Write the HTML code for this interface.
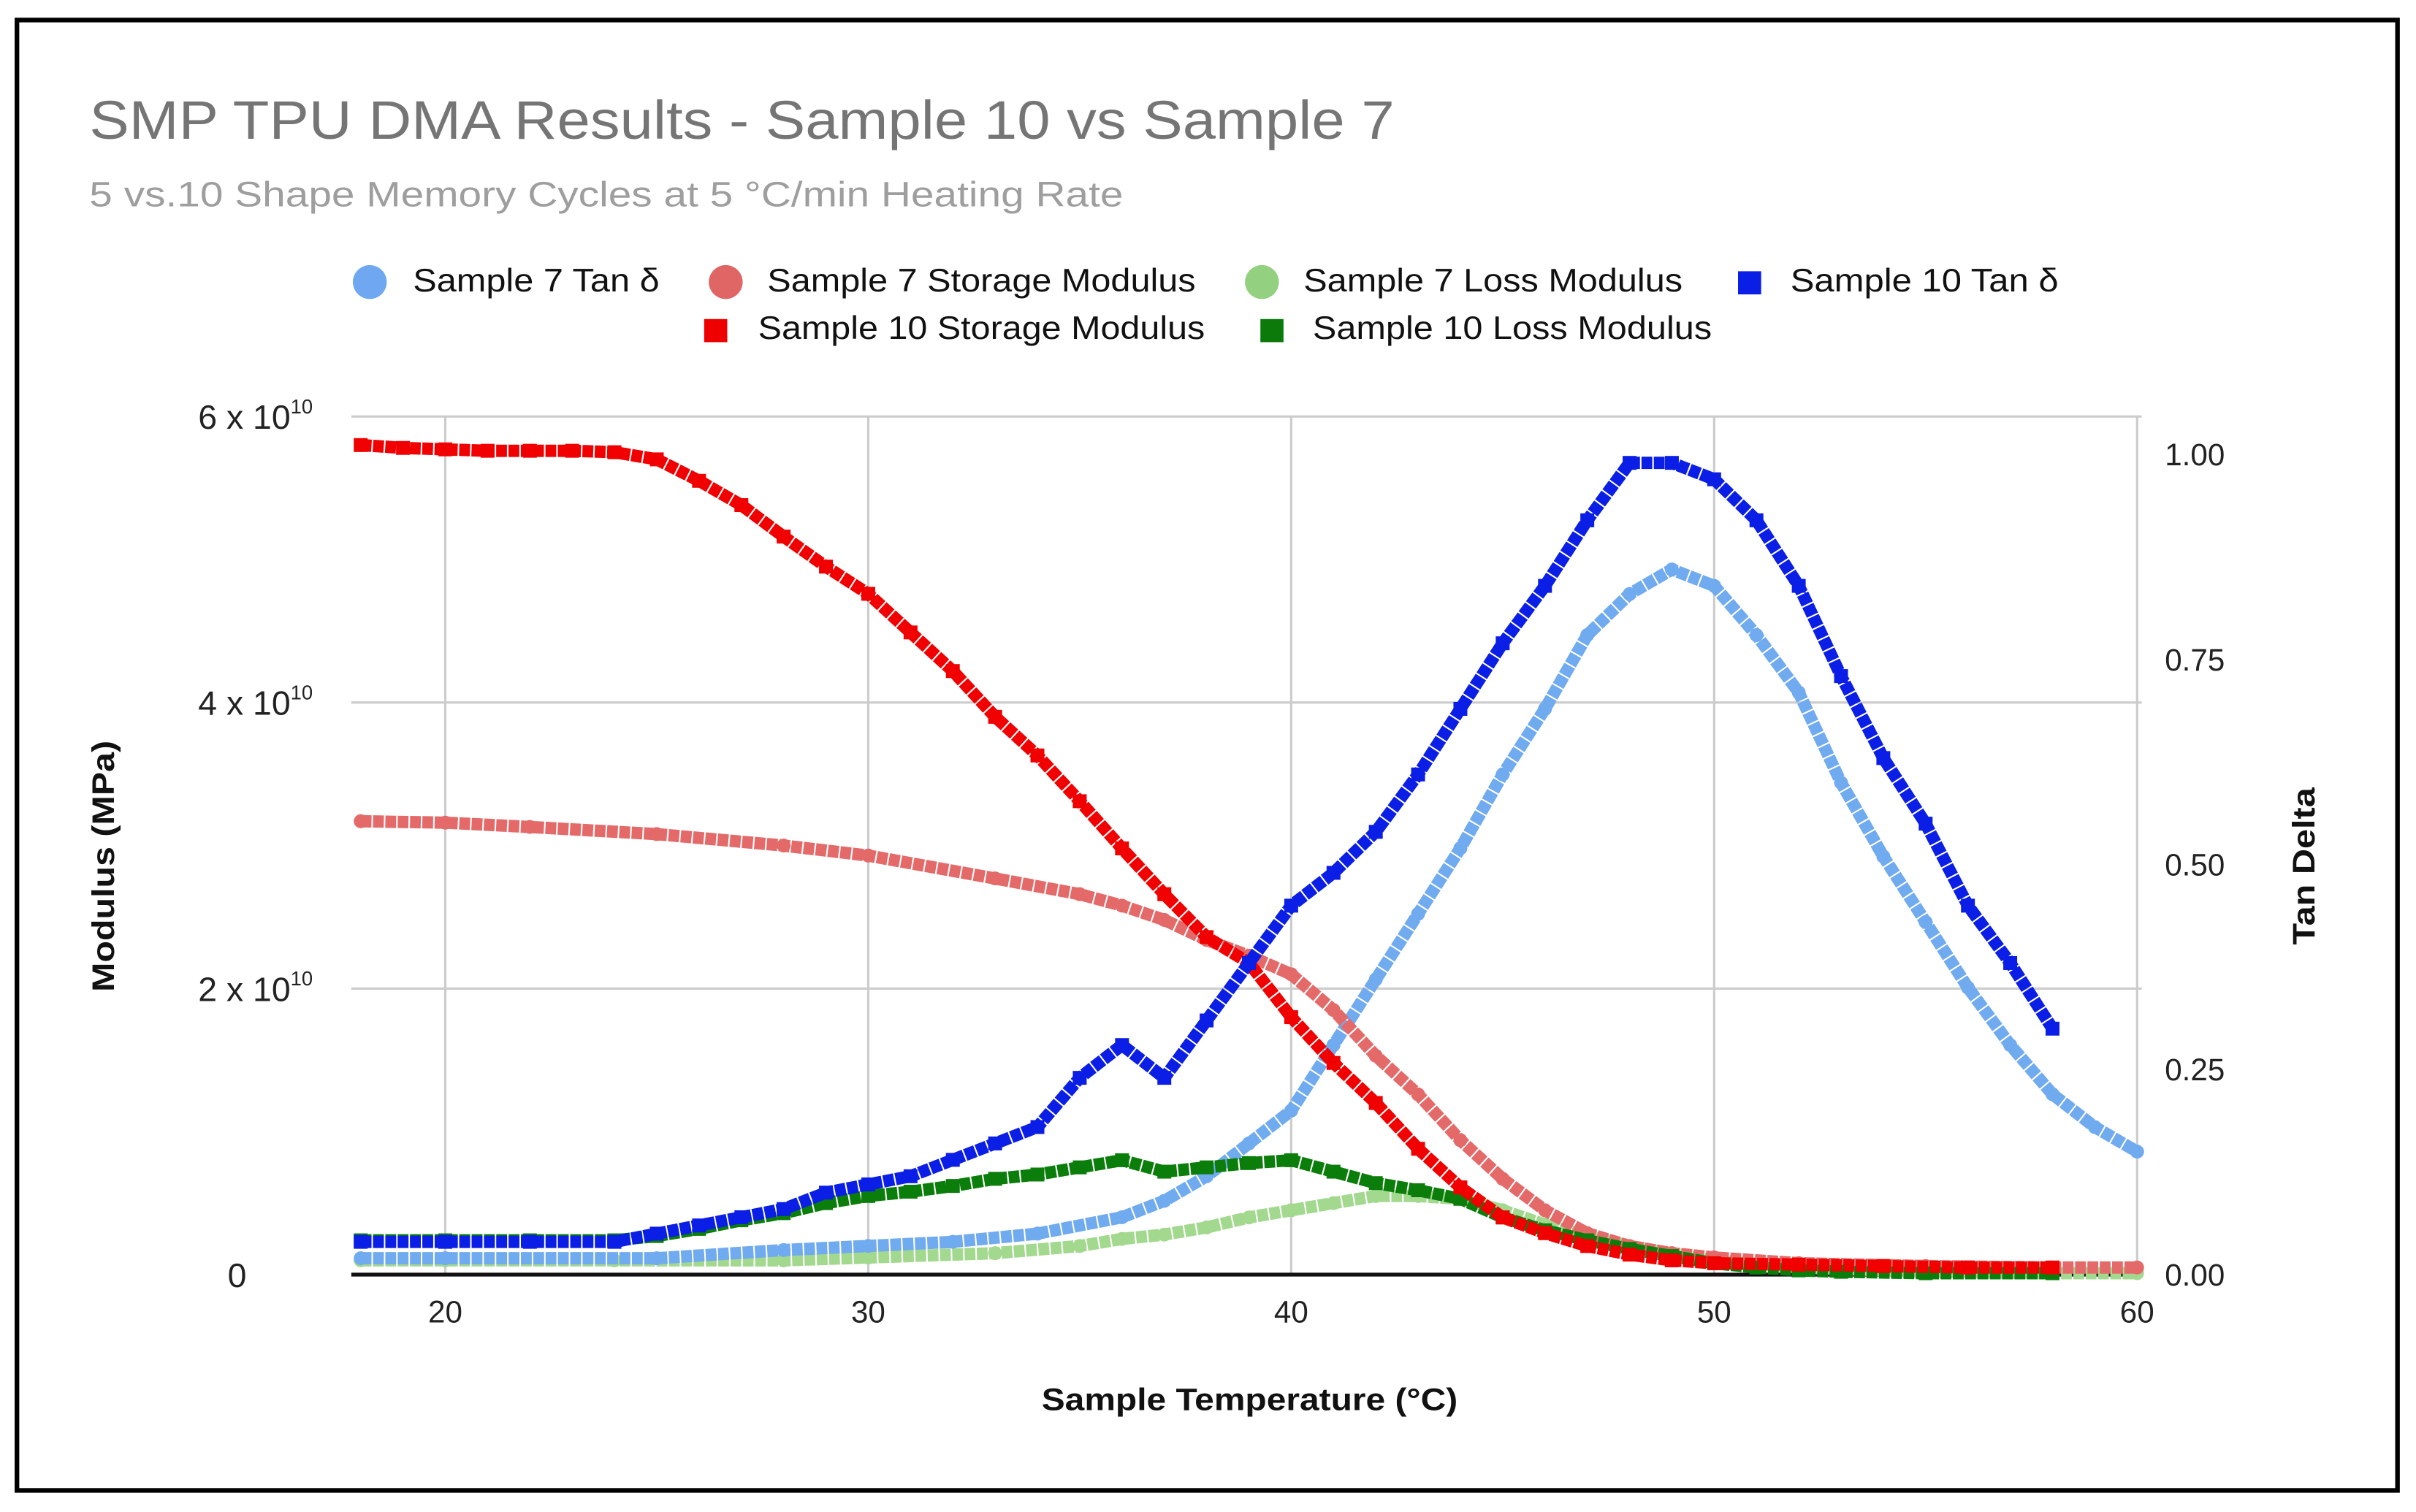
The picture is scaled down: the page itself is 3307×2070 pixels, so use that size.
<!DOCTYPE html>
<html><head><meta charset="utf-8"><style>
html,body{margin:0;padding:0;background:#fff;}
svg{display:block;font-family:"Liberation Sans",Arial,sans-serif;}
</style></head><body>
<svg id="chart" width="3307" height="2070" viewBox="0 0 1568 981" preserveAspectRatio="none" xmlns="http://www.w3.org/2000/svg">
<rect x="0" y="0" width="1568" height="981" fill="#fff"/>
<rect x="11" y="13" width="1545" height="954" fill="none" stroke="#000" stroke-width="3"/>
<text x="58" y="90" font-size="35" fill="#757575" textLength="847" lengthAdjust="spacingAndGlyphs">SMP TPU DMA Results - Sample 10 vs Sample 7</text>
<text x="58" y="134" font-size="23" fill="#9e9e9e" textLength="671" lengthAdjust="spacingAndGlyphs">5 vs.10 Shape Memory Cycles at 5 °C/min Heating Rate</text>
<g font-size="21" fill="#111" lengthAdjust="spacingAndGlyphs">
 <g><circle cx="240" cy="183" r="11" fill="#6fa8f0"/><text x="268" y="189" textLength="160" lengthAdjust="spacingAndGlyphs">Sample 7 Tan δ</text></g>
 <g><circle cx="471" cy="183" r="11" fill="#e06666"/><text x="498" y="189" textLength="278" lengthAdjust="spacingAndGlyphs">Sample 7 Storage Modulus</text></g>
 <g><circle cx="819" cy="183" r="11" fill="#93d07f"/><text x="846" y="189" textLength="246" lengthAdjust="spacingAndGlyphs">Sample 7 Loss Modulus</text></g>
 <g><rect x="1128" y="176" width="15" height="15" fill="#0a1ee6"/><text x="1162" y="189" textLength="174" lengthAdjust="spacingAndGlyphs">Sample 10 Tan δ</text></g>
 <g><rect x="457" y="207" width="15" height="15" fill="#ee0000"/><text x="492" y="220" textLength="290" lengthAdjust="spacingAndGlyphs">Sample 10 Storage Modulus</text></g>
 <g><rect x="818" y="207" width="15" height="15" fill="#0b7a0b"/><text x="852" y="220" textLength="259" lengthAdjust="spacingAndGlyphs">Sample 10 Loss Modulus</text></g>
</g>
<g id="grid"></g>
<g id="axes"></g>
<g id="series"></g>
<text transform="translate(74,562) rotate(-90)" text-anchor="middle" font-size="20" font-weight="bold" fill="#111" textLength="163" lengthAdjust="spacingAndGlyphs">Modulus (MPa)</text>
<text transform="translate(1502,562) rotate(-90)" text-anchor="middle" font-size="20" font-weight="bold" fill="#111" textLength="102" lengthAdjust="spacingAndGlyphs">Tan Delta</text>
<text x="811" y="915" text-anchor="middle" font-size="20" font-weight="bold" fill="#111" textLength="270" lengthAdjust="spacingAndGlyphs">Sample Temperature (°C)</text>
</svg>
<script>
const xTicks=[20,30,40,50,60];
const leftTicks=[0,2,4,6];
const rightTicks=[0,0.25,0.5,0.75,1.0];
const rightTickLabels=["0.00","0.25","0.50","0.75","1.00"];

const s10StorageX=[18,19,20,21,22,23,24,25,26,27,28,29,30,31,32,33,34,35,36,37,38,39,40,41,42,43,44,45,46,47,48,49,50,52,54,56,58];
const s10StorageY=[5.8,5.78,5.77,5.76,5.76,5.76,5.75,5.7,5.55,5.38,5.16,4.95,4.76,4.49,4.22,3.9,3.63,3.31,2.98,2.66,2.36,2.18,1.8,1.48,1.2,0.88,0.61,0.4,0.29,0.2,0.14,0.1,0.08,0.07,0.06,0.05,0.05];

const s7StorageX=[18,20,22,25,28,30,33,35,36,37,38,39,40,41,42,43,44,45,46,47,48,49,50,52,55,58,60];
const s7StorageY=[3.17,3.16,3.13,3.08,3.0,2.93,2.77,2.66,2.58,2.48,2.34,2.23,2.1,1.85,1.53,1.26,0.94,0.67,0.45,0.29,0.2,0.15,0.12,0.08,0.06,0.05,0.05];

const s10LossX=[18,20,22,24,25,26,27,28,29,30,31,32,33,34,35,36,37,38,39,40,41,42,43,44,45,46,47,48,49,50,51,52,53,55,58];
const s10LossY=[0.24,0.24,0.24,0.24,0.27,0.32,0.38,0.43,0.5,0.55,0.58,0.62,0.67,0.7,0.75,0.8,0.72,0.75,0.78,0.8,0.72,0.64,0.59,0.53,0.4,0.31,0.24,0.18,0.13,0.08,0.05,0.03,0.02,0.01,0.01];

const s7LossX=[18,20,24,28,30,33,35,36,37,38,39,40,41,42,43,44,45,46,47,48,49,50,52,55,58,60];
const s7LossY=[0.1,0.1,0.1,0.1,0.12,0.15,0.2,0.25,0.28,0.33,0.4,0.45,0.5,0.55,0.55,0.53,0.45,0.35,0.27,0.2,0.15,0.1,0.05,0.02,0.01,0.01];

const s10TanX=[18,20,22,24,25,26,27,28,29,30,31,32,33,34,35,36,37,38,39,40,41,42,43,44,45,46,47,48,49,50,51,52,53,54,55,56,57,58];
const s10TanY=[0.04,0.04,0.04,0.04,0.05,0.06,0.07,0.08,0.1,0.11,0.12,0.14,0.16,0.18,0.24,0.28,0.24,0.31,0.38,0.45,0.49,0.54,0.61,0.69,0.77,0.84,0.92,0.99,0.99,0.97,0.92,0.84,0.73,0.63,0.55,0.45,0.38,0.3];

const s7TanX=[18,20,25,28,30,32,34,36,37,38,39,40,41,42,43,44,45,46,47,48,49,50,51,52,53,54,55,56,57,58,59,60];
const s7TanY=[0.02,0.02,0.02,0.03,0.035,0.04,0.05,0.07,0.09,0.12,0.16,0.2,0.28,0.36,0.44,0.52,0.61,0.69,0.78,0.83,0.86,0.84,0.78,0.71,0.6,0.51,0.43,0.35,0.28,0.22,0.18,0.15];

const NS="http://www.w3.org/2000/svg";
const PL=228,PR=1390;
function xs(v){return 289+(v-20)*27.45;}
function yl(v){return 827-v*92.8;}
function yr(v){return 827-v*532;}
function mk(tag,attrs,parent){const e=document.createElementNS(NS,tag);for(const k in attrs)e.setAttribute(k,attrs[k]);parent.appendChild(e);return e;}

const grid=document.getElementById('grid');
const axes=document.getElementById('axes');
xTicks.forEach(t=>{
  const l=mk('line',{x1:xs(t),x2:xs(t),y1:270,y2:827,stroke:'#cccccc','stroke-width':1.5},grid);
  
  
  const tx=mk('text',{x:xs(t),y:858,'text-anchor':'middle','font-size':20,fill:'#222'},axes);
  tx.textContent=t;
  
  
});
leftTicks.forEach(t=>{
  if(t>0){
    const l=mk('line',{x1:PL,x2:PR,y1:yl(t),y2:yl(t),stroke:'#cccccc','stroke-width':1.5},grid);
    
    
  }
  const tx=mk('text',{x:t>0?203:160,y:yl(t)+8,'text-anchor':'end','font-size':22,fill:'#222'},axes);
  if(t>0){tx.innerHTML=t+' x 10<tspan font-size="13" dy="-10">10</tspan>';}else{tx.textContent='0';}
  
  
});
rightTicks.forEach((t,i)=>{
  const tx=mk('text',{x:1405,y:yr(t)+7,'font-size':20,fill:'#222'},axes);
  tx.textContent=rightTickLabels[i];
  
  
});
const base=mk('line',{x1:PL,x2:PR,y1:827,y2:827,stroke:'#111','stroke-width':2.5},axes);



const ser=document.getElementById('series');
function draw(name,X,Y,yf,color,shape){
  const g=mk('g',{},ser);
  
  
  const pts=X.map((x,i)=>xs(x)+','+yf(Y[i])).join(' ');
  mk('polyline',{points:pts,fill:'none',stroke:color,'stroke-width':8,'stroke-dasharray':'7 1','stroke-linejoin':'round'},g);
  X.forEach((x,i)=>{
    let m;
    if(shape==='c'){m=mk('circle',{cx:xs(x),cy:yf(Y[i]),r:4.5,fill:color},g);}
    else{m=mk('rect',{x:xs(x)-4.5,y:yf(Y[i])-4.5,width:9,height:9,fill:color},g);}
    
    
  });
}
draw('series-s7-loss',s7LossX,s7LossY,yl,'#a3d88f','c');
draw('series-s7-tan',s7TanX,s7TanY,yr,'#70aaef','c');
draw('series-s7-storage',s7StorageX,s7StorageY,yl,'#e46a6a','c');
draw('series-s10-loss',s10LossX,s10LossY,yl,'#0b7d0b','s');
draw('series-s10-storage',s10StorageX,s10StorageY,yl,'#f00000','s');
draw('series-s10-tan',s10TanX,s10TanY,yr,'#0a1ee6','s');
</script>
</body></html>
